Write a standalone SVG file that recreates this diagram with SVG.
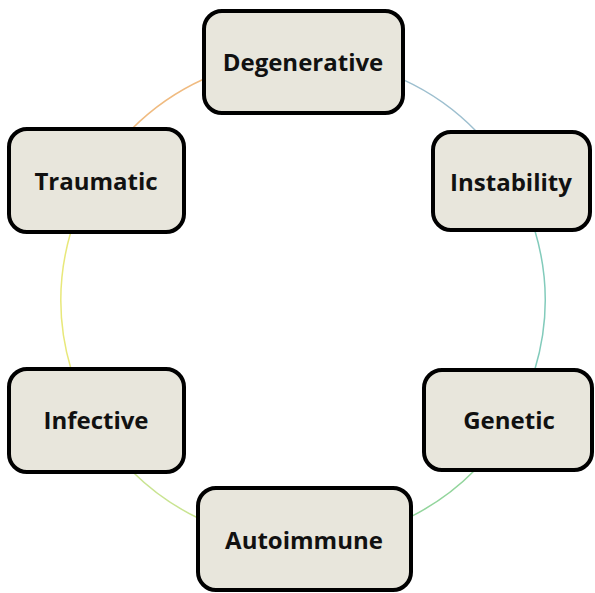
<svg xmlns="http://www.w3.org/2000/svg" width="595" height="593" viewBox="0 0 595 593">
<style>
.box{fill:#e8e6dc;stroke:#000;stroke-width:4}
.lbl{font-family:"Open Sans","Liberation Sans",sans-serif;font-weight:bold;font-size:24px;fill:#111;text-anchor:middle}
.arc{fill:none;stroke-width:1.5}
</style>
<rect width="595" height="593" fill="#fff"/>
<g id="connectors">
<path class="arc" stroke="#9dbfcf" d="M403 79.6 A242 242 0 0 1 477 132"/>
<path class="arc" stroke="#82cbbb" d="M534.7 230 A242 242 0 0 1 534.7 370"/>
<path class="arc" stroke="#92d59c" d="M475 470 A242 242 0 0 1 411 516.6"/>
<path class="arc" stroke="#c9e491" d="M198 518 A242 242 0 0 1 132.8 472"/>
<path class="arc" stroke="#e8e87a" d="M71 369 A242 242 0 0 1 70.8 232"/>
<path class="arc" stroke="#f0bb80" d="M131.8 129 A242 242 0 0 1 204 79"/>
</g>
<g id="degenerative"><rect class="box" x="204" y="11" width="199" height="102" rx="18"/><text class="lbl" x="303" y="71">Degenerative</text></g>
<g id="traumatic"><rect class="box" x="9" y="129" width="175" height="103" rx="18"/><text class="lbl" x="96" y="190">Traumatic</text></g>
<g id="instability"><rect class="box" x="433" y="132" width="157" height="98" rx="18"/><text class="lbl" x="511" y="191">Instability</text></g>
<g id="infective"><rect class="box" x="9" y="369" width="175" height="103" rx="18"/><text class="lbl" x="96" y="429">Infective</text></g>
<g id="genetic"><rect class="box" x="424" y="370" width="168" height="100" rx="18"/><text class="lbl" x="509" y="429">Genetic</text></g>
<g id="autoimmune"><rect class="box" x="198" y="488" width="213" height="102" rx="18"/><text class="lbl" x="304" y="549">Autoimmune</text></g>
</svg>
